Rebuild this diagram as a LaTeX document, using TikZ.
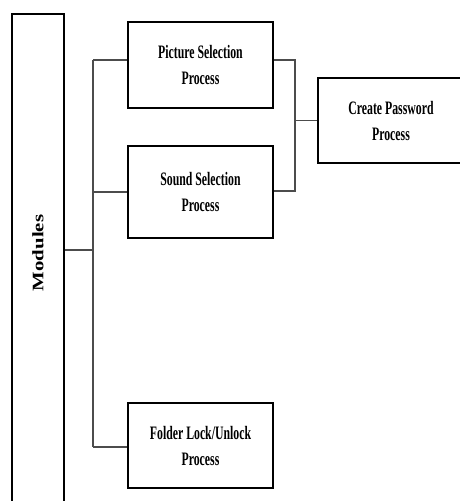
\documentclass[tikz,border=0pt]{standalone}
\usepackage{fontspec}
\setmainfont{Liberation Serif}
\newfontfamily\boxfont[FakeStretch=0.62]{Liberation Serif}
\newfontfamily\modfont[FakeStretch=1.3]{Liberation Serif}
\usetikzlibrary{positioning}

\tikzset{
  procbox/.style={draw, line width=1.6pt, minimum width=145pt, minimum height=88pt,
    align=center, inner sep=0pt, font=\boxfont\bfseries\fontsize{19}{26}\selectfont},
  link/.style={draw=black!70, line width=1.1pt}
}

\begin{document}
\begin{tikzpicture}[x=1pt, y=-1pt]
        \useasboundingbox (0,0) rectangle (460,501);

        % Modules column
        \node[draw, line width=1.6pt, minimum width=52pt, minimum height=510pt,
          anchor=north, inner sep=0pt] (modules) at (38,13) {};
        \node[rotate=90, font=\modfont\bfseries\fontsize{16}{18}\selectfont] (modtext) at (38,253) {Modules};

        % Process boxes
        \node[procbox, minimum height=86pt] (picsel) at (200.5,65) {Picture Selection\\Process};
        \node[procbox, minimum height=92pt] (sndsel) at (200.5,192) {Sound Selection\\Process};
        \node[procbox, minimum height=85pt] (folder) at (200.5,445.5) {Folder Lock/Unlock\\Process};
        \node[procbox, minimum width=152pt, minimum height=85pt] (createpw) at (394,120.5) {};
        \node[font=\boxfont\bfseries\fontsize{19}{26}\selectfont, align=center] (cptext) at (391,121) {Create Password\\Process};

        % Left bus
        \coordinate (bt) at (93,60);
        \coordinate (bm) at (93,250);
        \coordinate (bb) at (93,447);
        \draw[link] (bt) -- (bb);
        \draw[link] (modules.east |- bm) -- (bm);
        \draw[link] (bt) -- (bt -| picsel.west);
        \draw[link] (sndsel.west -| bt) -- (sndsel.west);
        \draw[link] (bb) -- (bb -| folder.west);

        % Right bus
        \coordinate (rt) at (295,60);
        \coordinate (rb) at (295,191);
        \draw[link] (picsel.east |- rt) -- (rt) -- (rb) -- (rb -| sndsel.east);
        \draw[link] (createpw.west -| rt) -- (createpw.west);
      \end{tikzpicture}
\end{document}
